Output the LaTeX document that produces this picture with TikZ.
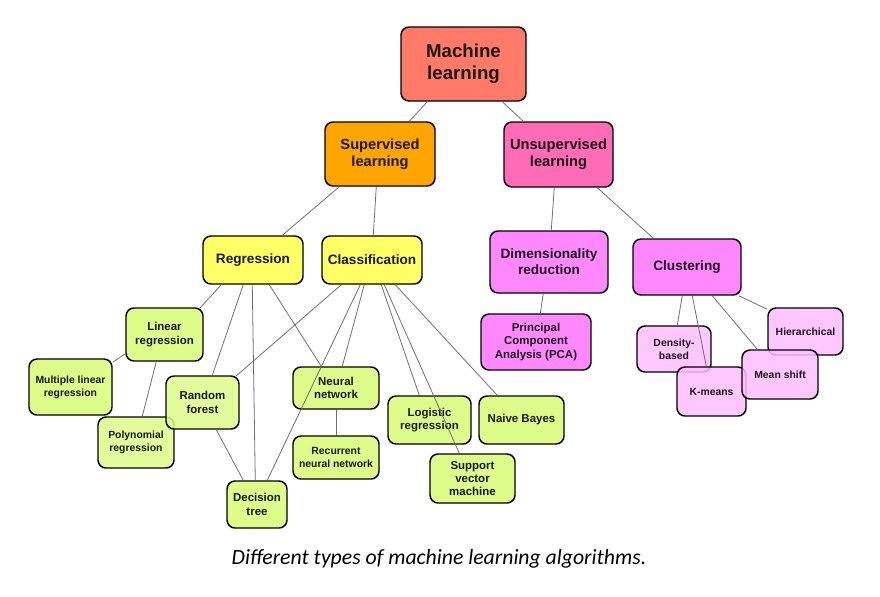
\documentclass[tikz,border=0pt]{standalone}
\usepackage{fontspec}
\usetikzlibrary{calc}
\newfontfamily\labfont{Liberation Sans}
\newfontfamily\capfont{Carlito}
\definecolor{cml}{HTML}{FF7A68}
\definecolor{csup}{HTML}{FFA500}
\definecolor{cuns}{HTML}{FF6BB5}
\definecolor{cyel}{HTML}{FFFF66}
\definecolor{cgrn}{HTML}{DDFC8A}
\definecolor{cmag}{HTML}{FF88FF}
\definecolor{clpk}{HTML}{FFBDFF}
\definecolor{cedge}{HTML}{6E6E6E}
\tikzset{
  bx/.style n args={2}{minimum width=#1*0.75pt, minimum height=#2*0.75pt},
  box/.style={draw=black, line width=1.1pt, rounded corners=6pt, align=center,
    inner sep=0pt, text=black!90, font=\labfont\bfseries},
  fbig/.style={font=\labfont\bfseries\fontsize{14}{16.3}\selectfont},
  fmid/.style={font=\labfont\bfseries\fontsize{11}{12.5}\selectfont},
  freg/.style={font=\labfont\bfseries\fontsize{10.2}{12.2}\selectfont},
  fleaf/.style={font=\labfont\bfseries\fontsize{8.6}{10}\selectfont},
  fsmall/.style={font=\labfont\bfseries\fontsize{7.8}{9.6}\selectfont},
  see/.style={fill opacity=0.85, text opacity=1},
  edge/.style={draw=cedge, line width=0.6pt},
}
\begin{document}
\begin{tikzpicture}[x=0.75pt,y=-0.75pt]
\useasboundingbox (0,0) rectangle (880,596);
% top levels
\node[box,fbig,fill=cml,bx={125}{74}] (ml) at (463.5,64) {Machine\\learning};
\node[box,fmid,fill=csup,bx={110}{64}] (sup) at (380,154) {Supervised\\learning};
\node[box,fmid,fill=cuns,bx={109}{65}] (uns) at (558.5,154.5) {Unsupervised\\learning};
\node[box,freg,fill=cyel,bx={100}{48}] (reg) at (253,260) {Regression};
\node[box,freg,fill=cyel,bx={100}{48}] (cls) at (372,260) {Classification};
\node[box,freg,fill=cmag,bx={118}{62}] (dim) at (549,262) {Dimensionality\\reduction};
\node[box,freg,fill=cmag,bx={108}{56}] (clu) at (687,267) {Clustering};
% supervised leaves
\node[box,fleaf,fill=cgrn,bx={77}{53}] (lin) at (164.5,334.5) {Linear\\regression};
\node[box,fsmall,fill=cgrn,bx={83}{56}] (mlr) at (70.5,387) {Multiple linear\\regression};
\node[box,fsmall,fill=cgrn,bx={76}{51},see] (poly) at (136,442.5) {Polynomial\\regression};
\node[box,fleaf,fill=cgrn,bx={73}{53},see] (rf) at (202.5,402.5) {Random\\forest};
\node[box,fleaf,fill=cgrn,bx={86}{42}] (nn) at (336,388) {Neural\\network};
\node[box,fsmall,fill=cgrn,bx={86}{43}] (rnn) at (336,457.5) {Recurrent\\neural network};
\node[box,fleaf,fill=cgrn,bx={60}{47}] (dt) at (257,504.5) {Decision\\tree};
\node[box,fleaf,fill=cgrn,bx={83}{48}] (log) at (429.5,420) {Logistic\\regression};
\node[box,fleaf,fill=cgrn,bx={85}{48}] (nb) at (521.5,420) {Naive Bayes};
\node[box,fleaf,fill=cgrn,bx={85}{49}] (svm) at (472.5,478.5) {Support\\vector\\machine};
% unsupervised leaves
\node[box,fleaf,fill=cmag,bx={110}{56}] (pca) at (536,342) {Principal\\Component\\Analysis (PCA)};
\node[box,fsmall,fill=clpk,bx={74}{46},see] (den) at (674,349) {Density-\\based};
\node[box,fsmall,fill=clpk,bx={75}{47},see] (hie) at (805.5,331.5) {Hierarchical};
\node[box,fsmall,fill=clpk,bx={69}{49},see] (km) at (711.5,391.5) {K-means};
\node[box,fsmall,fill=clpk,bx={76}{49},see] (ms) at (780,374.5) {Mean shift};
% connectors
\draw[edge] ($(ml.south west)+(27,0)$) -- ($(sup.north west)+(85,0)$);
\draw[edge] ($(ml.south west)+(102,0)$) -- ($(uns.north west)+(20,0)$);
\draw[edge] ($(sup.south west)+(15,0)$) -- ($(reg.north west)+(80,0)$);
\draw[edge] ($(sup.south west)+(52,0)$) -- ($(cls.north west)+(52,0)$);
\draw[edge] ($(uns.south west)+(51,0)$) -- ($(dim.north west)+(62,0)$);
\draw[edge] ($(uns.south west)+(94,0)$) -- ($(clu.north west)+(21,0)$);
\draw[edge] ($(reg.south west)+(19,0)$) -- ($(lin.north east)+(-4,1)$);
\draw[edge] ($(reg.south west)+(41,0)$) -- ($(rf.north west)+(47,0)$);
\draw[edge] ($(reg.south west)+(50,0)$) -- ($(dt.north west)+(29,0)$);
\draw[edge] ($(reg.south west)+(67,0)$) -- ($(nn.north west)+(29,0)$);
\draw[edge] ($(cls.south west)+(20,0)$) -- ($(rf.north east)+(-4,1)$);
\draw[edge] ($(cls.south west)+(39,0)$) -- ($(dt.north west)+(41,0)$);
\draw[edge] ($(cls.south west)+(43,0)$) -- ($(nn.north west)+(50,0)$);
\draw[edge] ($(cls.south west)+(60,0)$) -- ($(log.north west)+(32,0)$);
\draw[edge] ($(cls.south west)+(63,0)$) -- ($(svm.north west)+(30,0)$);
\draw[edge] ($(cls.south west)+(74,0)$) -- ($(nb.north west)+(19,0)$);
\draw[edge] ($(lin.south west)+(0,-8)$) -- ($(mlr.north east)+(0,4)$);
\draw[edge] ($(lin.south west)+(31,0)$) -- ($(poly.north west)+(45,0)$);
\draw[edge] ($(rf.south west)+(51,0)$) -- ($(dt.north west)+(17,0)$);
\draw[edge] (nn.south) -- (rnn.north);
\draw[edge] ($(dim.south west)+(54,0)$) -- ($(pca.north west)+(60,0)$);
\draw[edge] ($(clu.south west)+(50,0)$) -- ($(den.north west)+(41,0)$);
\draw[edge] ($(clu.south west)+(60,0)$) -- ($(km.north west)+(30,0)$);
\draw[edge] ($(clu.south west)+(80,0)$) -- ($(ms.north west)+(16,0)$);
\draw[edge] ($(clu.south east)+(-3,0)$) -- ($(hie.north west)+(0,2)$);
% caption
\node[font=\capfont\itshape\fontsize{16.3}{19}\selectfont, text=black] (cap) at (439,559) {Different types of machine learning algorithms.};
\end{tikzpicture}
\end{document}
